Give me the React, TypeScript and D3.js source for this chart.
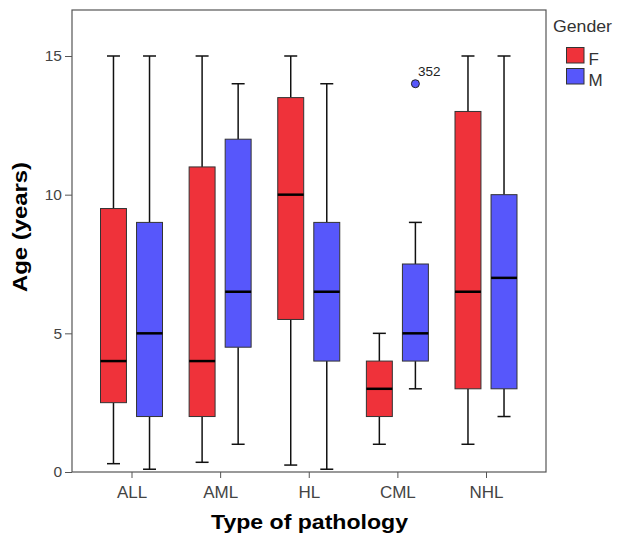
import React, { useEffect, useRef } from "react";
import * as d3 from "d3";

const categories = ["ALL", "AML", "HL", "CML", "NHL"];
const genders = ["F", "M"];
// [lower whisker, Q1, median, Q3, upper whisker] per category, per gender
const statsF = [
  [0.3, 2.5, 4, 9.5, 15],
  [0.35, 2, 4, 11, 15],
  [0.25, 5.5, 10, 13.5, 15],
  [1, 2, 3, 4, 5],
  [1, 3, 6.5, 13, 15],
];
const statsM = [
  [0.1, 2, 5, 9, 15],
  [1, 4.5, 6.5, 12, 14],
  [0.1, 4, 6.5, 9, 14],
  [3, 4, 5, 7.5, 9],
  [2, 3, 7, 10, 15],
];
const outliers = [{ cat: "CML", gender: "M", value: 14, label: "352" }];
const yTicks = [0, 5, 10, 15];
const colors = { F: "#EF323A", M: "#5757FB" };

export default function App() {
  const ref = useRef<SVGSVGElement>(null);

  useEffect(() => {
    const svg = d3.select(ref.current);
    svg.selectAll("*").remove();
    const left = 72, right = 546, top = 10, bottom = 472;

    const x = d3.scalePoint().domain(categories).range([131.5, 486]);
    const sub = d3.scaleBand().domain(genders).range([-31, 31])
      .paddingInner(0.28).paddingOuter(0);
    const y = d3.scaleLinear().domain([0, 15]).range([bottom, 56]);
    const bw = sub.bandwidth();

    svg.append("rect")
      .attr("x", left).attr("y", top)
      .attr("width", right - left).attr("height", bottom - top)
      .attr("fill", "white").attr("stroke", "#555").attr("stroke-width", 1.2);

    const font = "Arial, 'Liberation Sans', sans-serif";

    // y axis
    const ya = svg.append("g").attr("transform", `translate(${left},0)`)
      .call(d3.axisLeft(y).tickValues(yTicks).tickSize(7).tickPadding(3));
    ya.select(".domain").remove();
    ya.selectAll("line").attr("stroke", "#555");
    ya.selectAll("text").attr("font-family", font).attr("font-size", 15.5).attr("fill", "#444");

    // x axis
    const xa = svg.append("g").attr("transform", `translate(0,${bottom})`)
      .call(d3.axisBottom(x).tickSize(6).tickPadding(8));
    xa.select(".domain").remove();
    xa.selectAll("line").attr("stroke", "#555");
    xa.selectAll("text").attr("font-family", font).attr("font-size", 17).attr("fill", "#444");

    const groups: { cat: string; g: string; s: number[] }[] = [];
    categories.forEach((c, i) => {
      groups.push({ cat: c, g: "F", s: statsF[i] });
      groups.push({ cat: c, g: "M", s: statsM[i] });
    });

    const boxes = svg.selectAll("g.box").data(groups).enter().append("g")
      .attr("class", "box")
      .attr("transform", d => `translate(${x(d.cat)! + sub(d.g)!},0)`);

    const cx = bw / 2;
    boxes.append("line")
      .attr("x1", cx).attr("x2", cx)
      .attr("y1", d => y(d.s[0])).attr("y2", d => y(d.s[1]))
      .attr("stroke", "#111").attr("stroke-width", 1.5);
    boxes.append("line")
      .attr("x1", cx).attr("x2", cx)
      .attr("y1", d => y(d.s[3])).attr("y2", d => y(d.s[4]))
      .attr("stroke", "#111").attr("stroke-width", 1.5);
    boxes.append("line")
      .attr("x1", cx - 6.5).attr("x2", cx + 6.5)
      .attr("y1", d => y(d.s[0])).attr("y2", d => y(d.s[0]))
      .attr("stroke", "#111").attr("stroke-width", 1.5);
    boxes.append("line")
      .attr("x1", cx - 6.5).attr("x2", cx + 6.5)
      .attr("y1", d => y(d.s[4])).attr("y2", d => y(d.s[4]))
      .attr("stroke", "#111").attr("stroke-width", 1.5);
    boxes.append("rect")
      .attr("x", 0).attr("width", bw)
      .attr("y", d => y(d.s[3])).attr("height", d => y(d.s[1]) - y(d.s[3]))
      .attr("fill", d => (colors as any)[d.g])
      .attr("stroke", "#333").attr("stroke-width", 1);
    boxes.append("line")
      .attr("x1", 0).attr("x2", bw)
      .attr("y1", d => y(d.s[2])).attr("y2", d => y(d.s[2]))
      .attr("stroke", "#000").attr("stroke-width", 2.5);

    // outliers
    const out = svg.selectAll("g.out").data(outliers).enter().append("g")
      .attr("class", "out");
    out.append("circle")
      .attr("cx", d => x(d.cat)! + sub(d.gender)! + cx)
      .attr("cy", d => y(d.value))
      .attr("r", 4)
      .attr("fill", d => (colors as any)[d.gender])
      .attr("stroke", "#222").attr("stroke-width", 1);
    out.append("text")
      .attr("x", d => x(d.cat)! + sub(d.gender)! + cx + 2.5)
      .attr("y", d => y(d.value) - 8)
      .attr("font-family", font).attr("font-size", 13.5).attr("fill", "#222")
      .text(d => d.label);

    // axis titles
    svg.append("text")
      .attr("transform", `translate(27,227) rotate(-90)`)
      .attr("text-anchor", "middle")
      .attr("font-family", font).attr("font-size", 20).attr("font-weight", "bold")
      .attr("textLength", 130).attr("lengthAdjust", "spacingAndGlyphs")
      .text("Age (years)");
    svg.append("text")
      .attr("x", 309.5).attr("y", 529)
      .attr("text-anchor", "middle")
      .attr("font-family", font).attr("font-size", 20).attr("font-weight", "bold")
      .attr("textLength", 197).attr("lengthAdjust", "spacingAndGlyphs")
      .text("Type of pathology");

    // legend
    const lg = svg.append("g");
    lg.append("text").attr("x", 553).attr("y", 31.5)
      .attr("font-family", font).attr("font-size", 16).attr("fill", "#333")
      .attr("textLength", 59).attr("lengthAdjust", "spacingAndGlyphs")
      .text("Gender");
    const items = lg.selectAll("g.li").data(genders).enter().append("g")
      .attr("transform", (d, i) => `translate(566.5,${47.5 + i * 21})`);
    items.append("rect").attr("width", 17.5).attr("height", 15.5)
      .attr("fill", d => (colors as any)[d]).attr("stroke", "#333");
    items.append("text").attr("x", 22).attr("y", 17.5)
      .attr("font-family", font).attr("font-size", 17).attr("fill", "#333")
      .text(d => d);
  }, []);

  return <svg ref={ref} width={617} height={538} style={{ position: "absolute", left: 0, top: 0 }} />;
}
